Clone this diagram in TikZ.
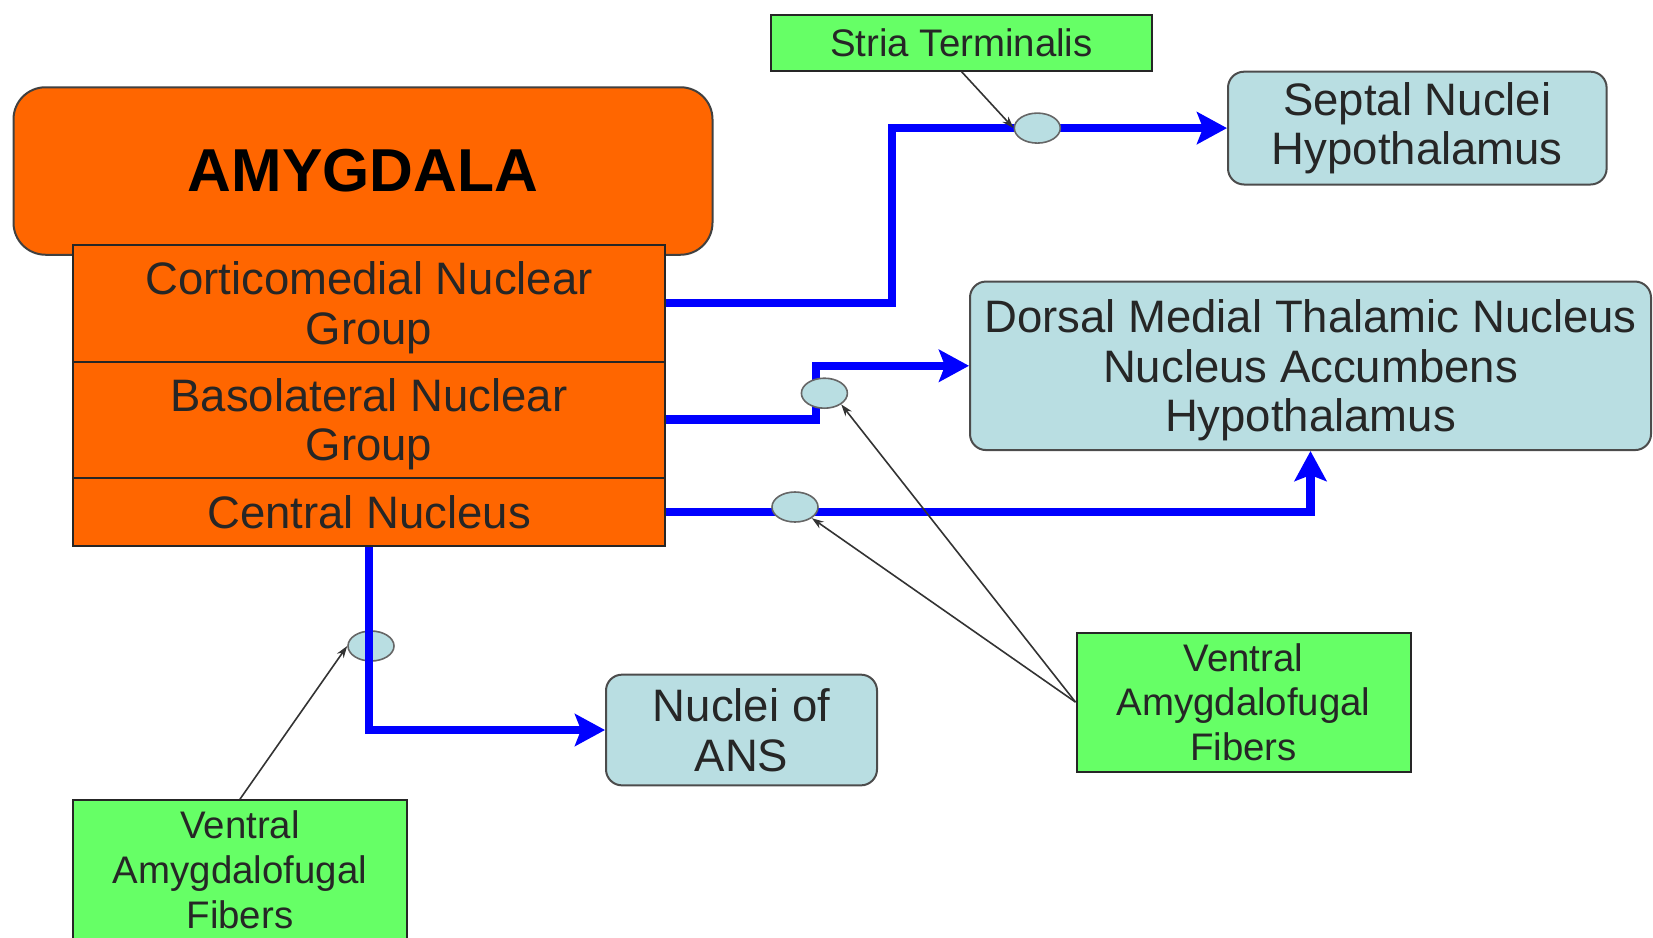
\documentclass[tikz,border=0pt]{standalone}
\usepackage{fontspec}
\setmainfont{Liberation Sans}
\usetikzlibrary{arrows.meta,positioning,shapes.geometric}
\definecolor{AmyOrange}{RGB}{255,102,0}
\definecolor{TargetBlue}{RGB}{185,222,226}
\definecolor{TractGreen}{RGB}{102,255,102}
\definecolor{FlowBlue}{RGB}{0,0,255}
\newcommand{\nucleusfont}{\fontsize{22.75}{24.8}\selectfont}
\newcommand{\fiberfont}{\fontsize{19.2}{22.4}\selectfont}
\newcommand{\headfont}{\fontsize{30.3}{32}\selectfont\bfseries}
\tikzset{
  amygdala/.style={draw=black!75,fill=AmyOrange,rounded corners=16pt,line width=1pt,
    minimum width=349.5pt,minimum height=83.75pt,inner sep=0pt,font=\headfont},
  nucleus/.style={draw=black!85,fill=AmyOrange,line width=1pt,minimum width=296.25pt,
    inner sep=0pt,align=center,font=\nucleusfont,text=black!85,text depth=0pt},
  target/.style={draw=black!70,fill=TargetBlue,rounded corners=8pt,line width=1pt,
    inner sep=0pt,align=center,font=\nucleusfont,text=black!85},
  tract/.style={draw=black!85,fill=TractGreen,line width=1pt,inner sep=0pt,
    align=center,font=\fiberfont,text=black!85},
  relay/.style={ellipse,draw=black!60,fill=TargetBlue,line width=0.8pt,
    minimum width=23pt,minimum height=15pt,inner sep=0pt},
  flow/.style={-{Stealth[length=15pt,width=16pt,inset=3pt]},line width=4.3pt,FlowBlue},
  fiber/.style={-{Stealth[length=6pt,width=4pt]},line width=0.8pt,black!80}
}
\begin{document}
\begin{tikzpicture}[x=0.5pt,y=-0.5pt]
  \useasboundingbox (0,0) rectangle (1653,937);
  \node[amygdala] (amyg) at (363,171) {AMYGDALA};
  \node[nucleus,minimum height=58.5pt] (cortico) at (369,303) {Corticomedial Nuclear\\Group};
  \node[nucleus,minimum height=58pt] (baso) at (369,419.6) {Basolateral Nuclear\\Group};
  \node[nucleus,minimum height=34.25pt] (central) at (369,511.9) {Central Nucleus};
  \node[tract,minimum width=190.85pt,minimum height=27.9pt] (stria) at (961.5,42.7) {Stria Terminalis};
  \node[target,minimum width=189.3pt,minimum height=56.4pt] (septal) at (1417.3,128.1) {Septal Nuclei\\Hypothalamus};
  \node[target,minimum width=340.5pt,minimum height=84.25pt,text depth=0pt] (dorsal) at (1310.5,365.8)
    {Dorsal Medial Thalamic Nucleus\\Nucleus Accumbens\\Hypothalamus};
  \node[target,minimum width=135.5pt,minimum height=55.35pt] (ans) at (741.5,730) {Nuclei of\\ANS};
  \node[tract,minimum width=167pt,minimum height=69.5pt] (vright) at (1243.5,702.1) {Ventral\\Amygdalofugal\\Fibers};
  \node[tract,minimum width=167pt,minimum height=69.5pt] (vleft) at (240,869.6) {Ventral\\Amygdalofugal\\Fibers};
  \node[relay] (relayans) at (371,646) {};
  \draw[flow] (central.south) |- (ans.west);
  \draw[flow] (cortico.east) -- ++(225.6,0) |- (septal.west);
  \draw[flow] (baso.east) -- ++(149.8,0) |- (dorsal.west);
  \draw[flow] (central.east) -| (dorsal.south);
  \node[relay] (relaysep) at (1037.3,128.1) {};
  \node[relay] (relaybaso) at (824.4,393.2) {};
  \node[relay] (relaycen) at (795,507) {};
  \draw[fiber] (stria.south) -- (relaysep.west);
  \draw[fiber] (vright.west) -- (relaybaso.south east);
  \draw[fiber] (vright.west) -- (relaycen.south east);
  \draw[fiber] (vleft.north) -- (relayans.west);
\end{tikzpicture}
\end{document}
